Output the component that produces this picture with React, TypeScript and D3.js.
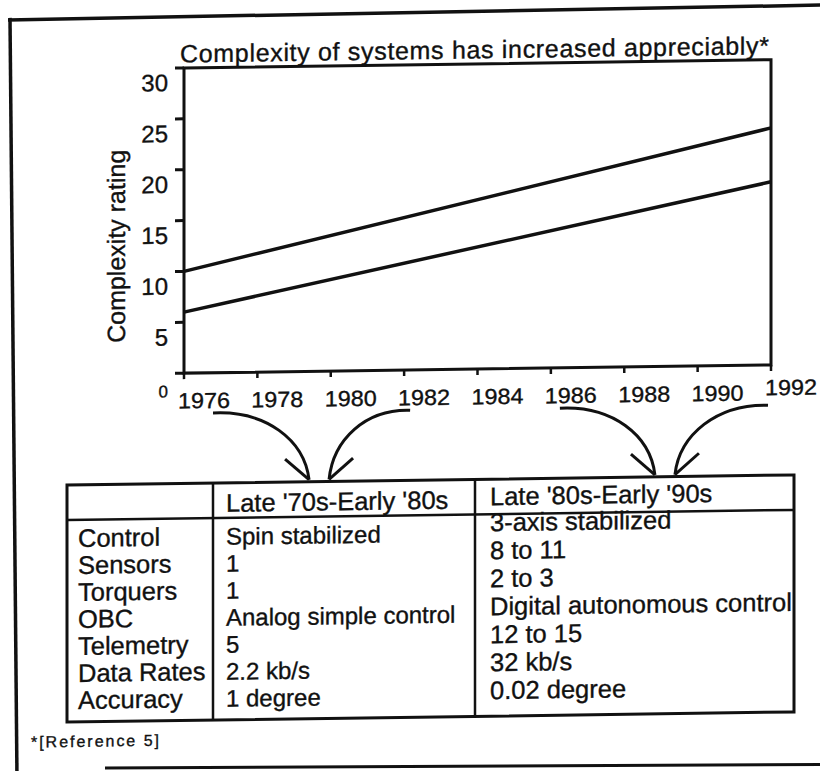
import * as d3 from "d3";

// Chart values
const yearTicks = [1976, 1978, 1980, 1982, 1984, 1986, 1988, 1990, 1992];
const ratingTicks = [0, 5, 10, 15, 20, 25, 30];
const upperYears = [1976, 1992];
const upperRatings = [10, 23.3];
const lowerYears = [1976, 1992];
const lowerRatings = [6, 18];

// Table contents
const periods = ["Late '70s-Early '80s", "Late '80s-Early '90s"];
const periodYears = [
  [1976, 1982],
  [1986, 1992],
];
const rowLabels = ["Control", "Sensors", "Torquers", "OBC", "Telemetry", "Data Rates", "Accuracy"];
const earlyValues = ["Spin stabilized", "1", "1", "Analog simple control", "5", "2.2 kb/s", "1 degree"];
const lateValues = ["3-axis stabilized", "8 to 11", "2 to 3", "Digital autonomous control", "12 to 15", "32 kb/s", "0.02 degree"];

const title = "Complexity of systems has increased appreciably*";
const yLabel = "Complexity rating";
const footnote = "*[Reference 5]";

const INK = "#111";
// scanned text reads heavier than a plain regular face
const heavy = { stroke: INK, strokeWidth: 0.35 };

export default function App() {
  const width = 820;
  const height = 771;
  const plot = { left: 184, right: 771, top: 70.5, bottom: 375.7 };

  const x = d3.scaleLinear().domain([1976, 1992]).range([plot.left, plot.right]);
  const y = d3.scaleLinear().domain([0, 30]).range([plot.bottom, plot.top]);

  const line = d3
    .line<[number, number]>()
    .x((d) => x(d[0]))
    .y((d) => y(d[1]));

  const upper = upperYears.map((yr, i) => [yr, upperRatings[i]] as [number, number]);
  const lower = lowerYears.map((yr, i) => [yr, lowerRatings[i]] as [number, number]);

  // table layout
  const cols = [67, 213, 475, 794];
  const tTop = 486;
  const tHead = 521;
  const tBottom = 723;
  const rowStep = 27;

  // arrow nudges (hand drawn in the original)
  const nudge = [
    { s0: 29, s1: 6, tip: 25 },
    { s0: 9, s1: -3, tip: 4 },
  ];
  const arrowTop = 416;
  const arrowTip = 484;

  return (
    <svg
      width={width}
      height={height}
      style={{ position: "absolute", left: 0, top: 0, display: "block", background: "#fff" }}
      fontFamily="'Liberation Sans', Arial, Helvetica, sans-serif"
    >
      <rect width={width} height={height} fill="#fff" />
      <g transform="skewY(-0.8)">
        {/* page frame */}
        <path d="M8,20 L830,16.5" stroke={INK} strokeWidth={3.5} fill="none" />
        <path d="M10,18 L17,780" stroke={INK} strokeWidth={3.5} fill="none" />
        <path d="M105,769.5 L830,776" stroke={INK} strokeWidth={3} fill="none" />

        {/* title */}
        <text x={180} y={65} fontSize={25} fill={INK} textLength={589} {...heavy}>
          {title}
        </text>

        {/* plot box */}
        <rect
          x={plot.left}
          y={plot.top}
          width={plot.right - plot.left}
          height={plot.bottom - plot.top}
          fill="none"
          stroke={INK}
          strokeWidth={3}
        />

        {/* y axis ticks + labels */}
        {ratingTicks.map((t) => (
          <g key={`yt-${t}`}>
            <line x1={plot.left - 9} x2={plot.left} y1={y(t)} y2={y(t)} stroke={INK} strokeWidth={3} />
            <text
              x={168}
              y={y(t) + (t === 0 ? 24 : 23)}
              textAnchor="end"
              fontSize={t === 0 ? 17 : 24}
              fill={INK}
              {...heavy}
            >
              {t}
            </text>
          </g>
        ))}

        <text
          transform={`translate(125,248) rotate(-90)`}
          textAnchor="middle"
          fontSize={25}
          fill={INK}
          {...heavy}
        >
          {yLabel}
        </text>

        {/* x axis ticks + labels */}
        {yearTicks.map((yr, i) => (
          <g key={`xt-${yr}`}>
            <line x1={x(yr)} x2={x(yr)} y1={plot.bottom} y2={plot.bottom + 6} stroke={INK} strokeWidth={2.5} />
            <text
              x={x(yr) + 20}
              y={i === yearTicks.length - 1 ? 406 : 411}
              textAnchor="middle"
              fontSize={22}
              textLength={52}
              lengthAdjust="spacingAndGlyphs"
              fill={INK}
              {...heavy}
            >
              {yr}
            </text>
          </g>
        ))}

        {/* series */}
        <path d={line(upper) ?? ""} fill="none" stroke={INK} strokeWidth={3.5} />
        <path d={line(lower) ?? ""} fill="none" stroke={INK} strokeWidth={3.5} />

        {/* arrows from year ranges to table columns */}
        {periodYears.map(([y0, y1], p) => {
          const s0 = x(y0) + nudge[p].s0;
          const s1 = x(y1) + nudge[p].s1;
          const mid = x((y0 + y1) / 2) + nudge[p].tip;
          const tipL = mid - 10;
          const tipR = mid + 10;
          const dl = tipL - s0;
          const dr = s1 - tipR;
          return (
            <g key={`arr-${p}`} fill="none" stroke={INK} strokeWidth={3}>
              <path
                d={`M${s0},${arrowTop} C${s0 + 0.55 * dl},${arrowTop - 2} ${tipL - 0.05 * dl},${arrowTop + 28} ${tipL},${arrowTip}`}
              />
              <path d={`M${tipL - 24},${arrowTip - 21} L${tipL},${arrowTip}`} />
              <path
                d={`M${s1},${arrowTop} C${s1 - 0.55 * dr},${arrowTop - 2} ${tipR + 0.05 * dr},${arrowTop + 28} ${tipR},${arrowTip}`}
              />
              <path d={`M${tipR + 24},${arrowTip - 21} L${tipR},${arrowTip}`} />
            </g>
          );
        })}

        {/* table */}
        <rect
          x={cols[0]}
          y={tTop}
          width={cols[3] - cols[0]}
          height={tBottom - tTop}
          fill="none"
          stroke={INK}
          strokeWidth={3}
        />
        <line x1={cols[0]} x2={cols[3]} y1={tHead} y2={tHead} stroke={INK} strokeWidth={2.5} />
        <line x1={cols[1]} x2={cols[1]} y1={tTop} y2={tBottom} stroke={INK} strokeWidth={2.5} />
        <line x1={cols[2]} x2={cols[2]} y1={tTop} y2={tBottom} stroke={INK} strokeWidth={2.5} />

        <text x={cols[1] + 13} y={515} fontSize={25.5} fill={INK} {...heavy}>
          {periods[0]}
        </text>
        <text x={cols[2] + 15} y={512} fontSize={25.5} fill={INK} {...heavy}>
          {periods[1]}
        </text>

        {rowLabels.map((r, i) => (
          <g key={`row-${r}`} fill={INK} {...heavy}>
            <text x={cols[0] + 11} y={548 + i * rowStep} fontSize={25.5}>
              {r}
            </text>
            <text x={cols[1] + 13} y={548 + i * rowStep} fontSize={24}>
              {earlyValues[i]}
            </text>
            <text x={cols[2] + 15} y={538 + i * 28} fontSize={25.5}>
              {lateValues[i]}
            </text>
          </g>
        ))}

        {/* footnote */}
        <text x={31} y={748} fontSize={16} textLength={128} fill={INK} {...heavy}>
          {footnote}
        </text>
      </g>
    </svg>
  );
}
